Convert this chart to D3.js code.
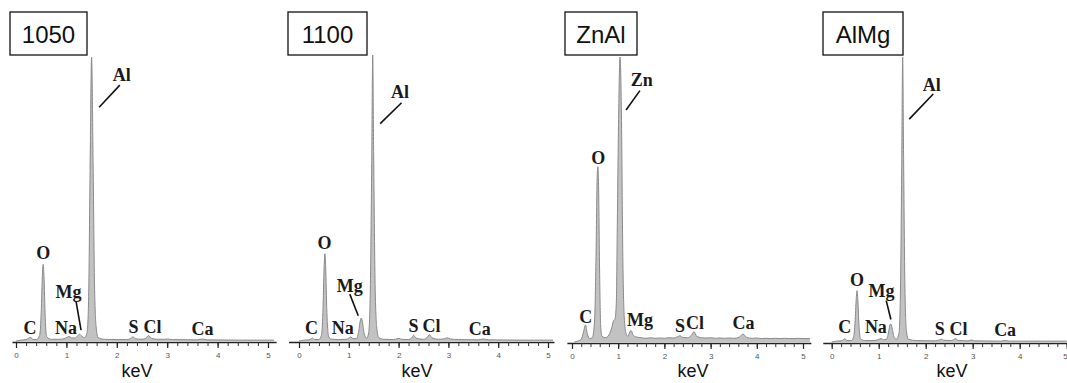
<!DOCTYPE html>
<html>
<head>
<meta charset="utf-8">
<script src="https://cdn.jsdelivr.net/npm/d3@7"></script>
<style>
  body { margin: 0; background: #fff; }
  svg { display: block; }
</style>
</head>
<body>
<div class="chart"></div>
<script>
// sample names (one panel each)
var samples = ["1050", "1100", "ZnAl", "AlMg"];

// EDS spectra: [keV, relative intensity (tallest peak = 100)]
var spec1050 = [[0,0],[0.1,0.3],[0.2,0.5],[0.25,1.0],[0.29,1.3],[0.33,0.6],[0.40,0.5],[0.47,2],[0.50,10],[0.525,24],[0.54,27],[0.555,23],[0.58,8],[0.61,1.5],[0.70,0.6],[0.85,0.6],[0.95,0.8],[1.00,1.2],[1.05,1.6],[1.10,1.1],[1.17,1.0],[1.22,1.8],[1.26,2.4],[1.30,1.8],[1.36,1.2],[1.41,3],[1.44,14],[1.47,60],[1.50,100],[1.53,62],[1.56,18],[1.59,5],[1.63,1.2],[1.75,0.6],[2.0,0.5],[2.2,0.5],[2.28,0.9],[2.32,1.5],[2.37,0.8],[2.5,0.6],[2.58,1.0],[2.63,1.9],[2.68,1.0],[2.8,0.6],[2.95,0.6],[3.0,0.7],[3.1,0.5],[3.6,0.4],[3.7,0.7],[3.8,0.4],[4.5,0.3],[5.0,0.3],[5.12,0.3]];
var spec1100 = [[0,0],[0.1,0.3],[0.2,0.4],[0.24,0.7],[0.27,1.0],[0.31,0.5],[0.40,0.5],[0.45,2],[0.48,10],[0.505,26],[0.52,30.5],[0.535,26],[0.56,10],[0.59,2],[0.63,0.7],[0.8,0.5],[0.95,0.6],[1.0,1.0],[1.04,1.4],[1.08,0.9],[1.15,0.8],[1.20,3.5],[1.23,7],[1.25,8],[1.27,7],[1.31,2.5],[1.36,1.0],[1.40,3],[1.43,16],[1.46,62],[1.48,100],[1.50,64],[1.53,18],[1.56,5],[1.60,1.2],[1.7,0.6],[1.9,0.5],[1.97,0.8],[2.01,0.9],[2.06,0.6],[2.2,0.5],[2.26,1.0],[2.30,2.0],[2.35,1.0],[2.5,0.6],[2.57,1.2],[2.62,2.2],[2.67,1.1],[2.8,0.6],[2.92,0.8],[2.98,1.1],[3.04,0.7],[3.2,0.5],[3.6,0.4],[3.70,0.7],[3.8,0.4],[4.5,0.3],[5.0,0.3],[5.1,0.3]];
var specZnAl = [[0.05,0],[0.12,0.3],[0.20,1],[0.25,3.5],[0.29,6],[0.33,3],[0.38,1.2],[0.44,1.5],[0.49,8],[0.52,30],[0.545,58],[0.56,61.5],[0.575,55],[0.60,22],[0.62,6],[0.65,2],[0.72,1.5],[0.80,2.5],[0.86,5],[0.90,7.5],[0.93,8],[0.96,14],[0.98,40],[1.01,80],[1.04,100],[1.07,80],[1.10,30],[1.13,9],[1.17,3],[1.21,2],[1.25,3.5],[1.28,4],[1.32,2.5],[1.38,1.8],[1.5,1.5],[1.6,1.3],[1.7,1.5],[1.8,1.3],[1.9,1.4],[2.0,1.3],[2.1,1.5],[2.2,1.4],[2.28,1.8],[2.34,2.2],[2.40,1.6],[2.5,1.5],[2.58,2.3],[2.64,3.6],[2.70,2.0],[2.8,1.5],[2.9,1.4],[3.0,1.5],[3.1,1.3],[3.2,1.4],[3.3,1.3],[3.4,1.4],[3.5,1.3],[3.62,1.7],[3.70,2.8],[3.78,1.6],[3.9,1.3],[4.0,1.4],[4.1,1.2],[4.2,1.3],[4.3,1.2],[4.4,1.3],[4.5,1.2],[4.6,1.3],[4.7,1.2],[4.8,1.2],[4.9,1.3],[5.0,1.2],[5.15,1.2]];
var specAlMg = [[0,0],[0.1,0.3],[0.2,0.4],[0.25,0.8],[0.28,1.2],[0.32,0.5],[0.42,0.5],[0.47,2],[0.50,8],[0.525,16],[0.54,18],[0.555,15],[0.58,6],[0.61,1.2],[0.7,0.5],[0.9,0.5],[1.0,0.9],[1.05,1.2],[1.10,0.8],[1.17,1],[1.21,3.5],[1.24,6],[1.26,6.3],[1.29,4.5],[1.33,1.5],[1.38,1.0],[1.43,3],[1.46,15],[1.49,62],[1.51,100],[1.53,64],[1.56,17],[1.59,4],[1.63,1],[1.8,0.5],[2.2,0.4],[2.30,0.8],[2.34,1.0],[2.38,0.6],[2.55,0.5],[2.60,0.9],[2.64,1.2],[2.68,0.6],[2.9,0.4],[2.98,0.7],[3.04,0.4],[3.6,0.3],[3.69,0.5],[3.78,0.3],[4.5,0.3],[5.0,0.3]];

// element labels: text, keV, intensity of text baseline
var labels1050 = [["Al",2.10,91.5],["O",0.54,28.7],["Mg",1.04,15.2],["C",0.28,2.4],["Na",0.99,2.4],["S",2.33,2.7],["Cl",2.71,2.7],["Ca",3.70,2.1]];
var labels1100 = [["Al",2.03,84.8],["O",0.51,32.2],["Mg",1.02,17],["C",0.25,2.3],["Na",0.88,2.3],["S",2.30,3.2],["Cl",2.66,3.2],["Ca",3.63,2.0]];
var labelsZnAl = [["Zn",1.51,89.8],["O",0.57,62.4],["C",0.30,6.7],["Mg",1.47,5.5],["S",2.34,3.5],["Cl",2.66,4.7],["Ca",3.71,4.7]];
var labelsAlMg = [["Al",2.13,88.2],["O",0.54,19.6],["Mg",1.06,15.7],["C",0.28,3.1],["Na",0.94,3.1],["S",2.30,2.5],["Cl",2.70,2.5],["Ca",3.69,2.0]];

// leader lines: keV1, int1, keV2, int2
var leaders1050 = [[2.06,90.1,1.65,82.3],[1.19,14.1,1.29,3.8]];
var leaders1100 = [[2.06,83.3,1.63,76],[1.02,16.4,1.19,8.8]];
var leadersZnAl = [[1.47,88.2,1.17,81.4]];
var leadersAlMg = [[2.16,87,1.65,78.2],[1.16,14.5,1.26,7.9]];

var spectra = [spec1050, spec1100, specZnAl, specAlMg];
var labelSets = [labels1050, labels1100, labelsZnAl, labelsAlMg];
var leaderSets = [leaders1050, leaders1100, leadersZnAl, leadersAlMg];

var majorTicks = [0, 1, 2, 3, 4, 5];
var minorTicks = d3.range(0, 5.01, 0.2);

// panel geometry
var layout = [
  { x0: 16,    k: 50.4, lo: -0.08, hi: 5.16, axisY: 342, top: 57, box: [10, 12, 77, 43],  keV: 137 },
  { x0: 299,   k: 49.8, lo: -0.21, hi: 5.12, axisY: 342, top: 55, box: [288, 12, 79, 43], keV: 417 },
  { x0: 572,   k: 46.2, lo: -0.11, hi: 5.17, axisY: 343, top: 57, box: [565, 12, 72, 43], keV: 693 },
  { x0: 831.7, k: 47,   lo: -0.19, hi: 5.0,  axisY: 343, top: 57, box: [823, 12, 80, 43], keV: 952 }
];

var width = 1067, height = 383;

var svg = d3.select(".chart")
  .append("svg")
  .attr("width", width)
  .attr("height", height);

samples.forEach(function (name, i) {
  var L = layout[i];
  var g = svg.append("g");

  var x = d3.scaleLinear()
    .domain([L.lo, L.hi])
    .range([L.x0 + L.lo * L.k, L.x0 + L.hi * L.k]);
  var y = d3.scaleLinear()
    .domain([0, 100])
    .range([L.axisY - 1, L.top]);

  var area = d3.area()
    .x(function (d) { return x(d[0]); })
    .y0(y(0))
    .y1(function (d) { return y(d[1]); })
    .curve(d3.curveMonotoneX);
  var line = d3.line()
    .x(function (d) { return x(d[0]); })
    .y(function (d) { return y(d[1]); })
    .curve(d3.curveMonotoneX);

  g.append("path")
    .datum(spectra[i])
    .attr("d", area)
    .style("fill", "#c2c2c2");
  g.append("path")
    .datum(spectra[i])
    .attr("d", line)
    .style("fill", "none")
    .style("stroke", "#8a8a8a")
    .style("stroke-width", 1);

  // minor ticks
  var minor = g.append("g")
    .attr("transform", "translate(0," + L.axisY + ")")
    .call(d3.axisBottom(x).tickValues(minorTicks).tickSize(4).tickSizeOuter(0).tickFormat(""));
  minor.select(".domain").style("stroke", "#222").style("stroke-width", 1.6);
  minor.selectAll(".tick line").style("stroke", "#333").style("stroke-width", 1);

  // major ticks with labels
  var major = g.append("g")
    .attr("transform", "translate(0," + L.axisY + ")")
    .call(d3.axisBottom(x).tickValues(majorTicks).tickSize(6).tickSizeOuter(0).tickPadding(4)
      .tickFormat(d3.format("d")));
  major.select(".domain").remove();
  major.selectAll(".tick line").style("stroke", "#222").style("stroke-width", 1.2);
  major.selectAll(".tick text")
    .style("font-family", "Liberation Sans, Arial, sans-serif")
    .style("font-size", "8px")
    .style("fill", "#555")
    .attr("text-anchor", function (d) { return (x(d) > width - 4) ? "end" : "middle"; })
    .attr("dx", function (d) { return (x(d) > width - 4) ? "0.5" : "0"; });

  g.append("text")
    .attr("x", L.keV)
    .attr("y", 377)
    .attr("text-anchor", "middle")
    .style("font-family", "Liberation Sans, Arial, sans-serif")
    .style("font-size", "18px")
    .style("fill", "#111")
    .text("keV");

  // leader lines
  g.selectAll(".leader")
    .data(leaderSets[i])
    .enter()
    .append("line")
    .attr("x1", function (d) { return x(d[0]); })
    .attr("y1", function (d) { return y(d[1]); })
    .attr("x2", function (d) { return x(d[2]); })
    .attr("y2", function (d) { return y(d[3]); })
    .style("stroke", "#111")
    .style("stroke-width", 1.6);

  g.selectAll(".elem")
    .data(labelSets[i])
    .enter()
    .append("text")
    .attr("x", function (d) { return x(d[1]); })
    .attr("y", function (d) { return y(d[2]); })
    .attr("text-anchor", "middle")
    .style("font-family", "Liberation Serif, Times New Roman, serif")
    .style("font-weight", "bold")
    .style("font-size", "18px")
    .style("fill", "#1a1a1a")
    .text(function (d) { return d[0]; });

  // sample name box
  g.append("rect")
    .attr("x", L.box[0])
    .attr("y", L.box[1])
    .attr("width", L.box[2])
    .attr("height", L.box[3])
    .style("fill", "#fff")
    .style("stroke", "#111")
    .style("stroke-width", 1.3);
  g.append("text")
    .attr("x", L.box[0] + L.box[2] / 2)
    .attr("y", L.box[1] + 31)
    .attr("text-anchor", "middle")
    .style("font-family", "Liberation Sans, Arial, sans-serif")
    .style("font-size", "24px")
    .style("fill", "#111")
    .text(name);
});
</script>
</body>
</html>
